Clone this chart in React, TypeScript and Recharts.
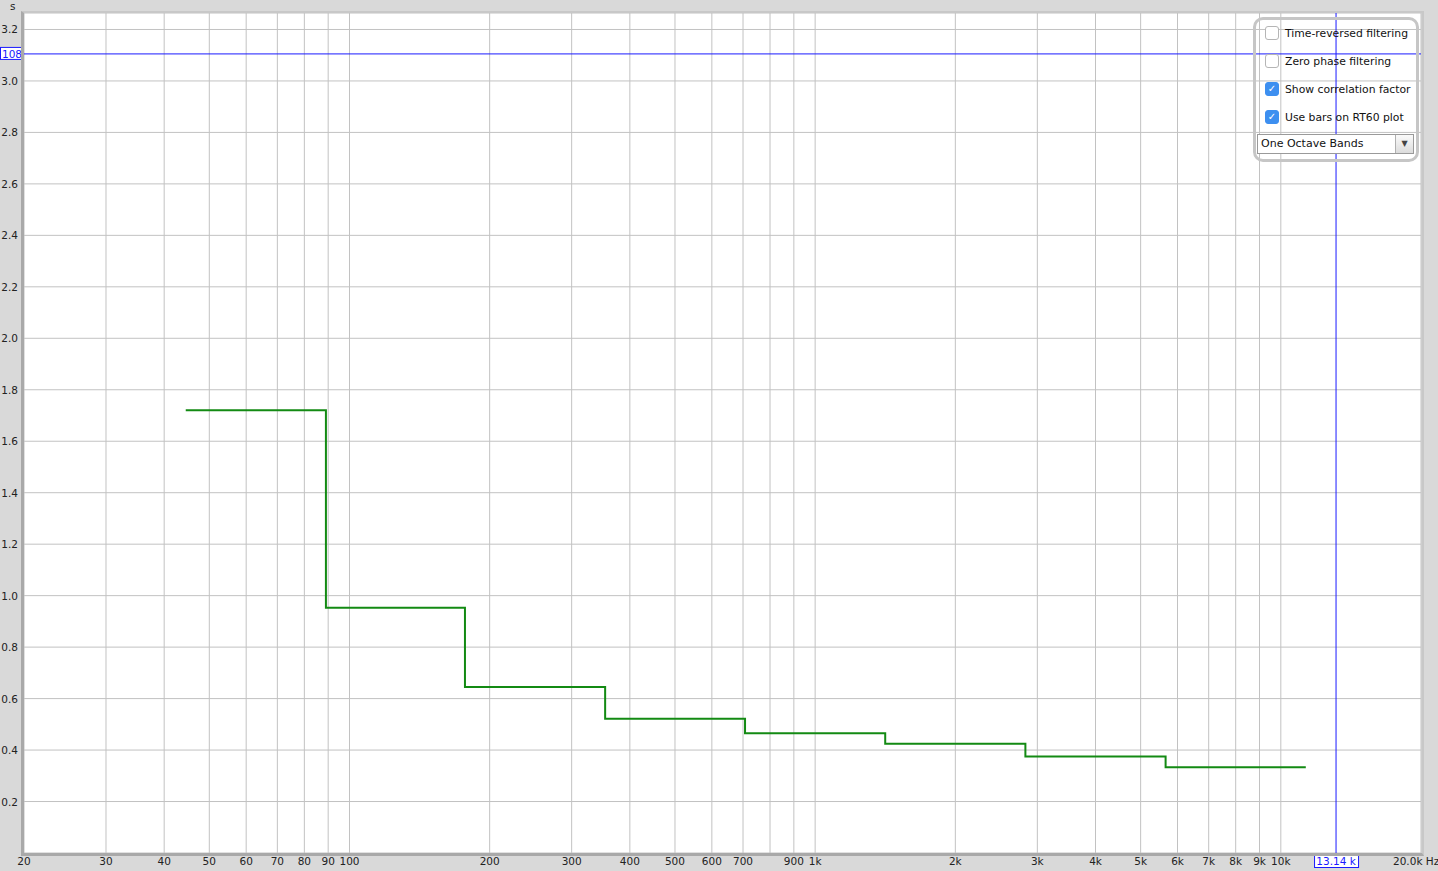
import { LineChart, Line, XAxis, YAxis, CartesianGrid, ReferenceLine } from 'recharts'

// octave band edges (Hz) and RT60 values (s) - last point closes the final step
const bandEdges = [44.5, 89, 177, 354, 707, 1414, 2828, 5657, 11314]
const rt60 = [1.72, 0.953, 0.645, 0.522, 0.465, 0.425, 0.375, 0.333, 0.333]

const freqGrid = [
  20, 30, 40, 50, 60, 70, 80, 90, 100, 200, 300, 400, 500, 600, 700, 800, 900, 1000,
  2000, 3000, 4000, 5000, 6000, 7000, 8000, 9000, 10000, 20000,
]
const freqLabels: Record<number, string> = {
  20: '20', 30: '30', 40: '40', 50: '50', 60: '60', 70: '70', 80: '80', 90: '90', 100: '100',
  200: '200', 300: '300', 400: '400', 500: '500', 600: '600', 700: '700', 900: '900', 1000: '1k',
  2000: '2k', 3000: '3k', 4000: '4k', 5000: '5k', 6000: '6k', 7000: '7k', 8000: '8k', 9000: '9k',
  10000: '10k',
}
const secTicks = [0.2, 0.4, 0.6, 0.8, 1.0, 1.2, 1.4, 1.6, 1.8, 2.0, 2.2, 2.4, 2.6, 2.8, 3.0, 3.2]

const cursorFreq = 13140
const cursorSec = 3.105

const options = [
  { label: 'Time-reversed filtering', checked: false },
  { label: 'Zero phase filtering', checked: false },
  { label: 'Show correlation factor', checked: true },
  { label: 'Use bars on RT60 plot', checked: true },
]

const data = bandEdges.map((f, i) => ({ f, rt: rt60[i] }))

const FONT = '"DejaVu Sans", sans-serif'

function XTick(props: any) {
  const { x, payload } = props
  const label = freqLabels[payload.value]
  if (!label) return null
  return (
    <text x={x} y={865} textAnchor="middle" fontSize={10.5} fill="#222" fontFamily={FONT}>
      {label}
    </text>
  )
}

function YTick(props: any) {
  const { x, y, payload } = props
  return (
    <text x={x + 2} y={y + 4} textAnchor="end" fontSize={10.5} fill="#222" fontFamily={FONT}>
      {payload.value.toFixed(1)}
    </text>
  )
}

function CursorYLabel(props: any) {
  const y = props.viewBox.y
  return (
    <g>
      <rect x={0.5} y={y - 6.5} width={22} height={12} fill="#fff" stroke="#1a1aff" />
      <text x={2} y={y + 4} fontSize={10.5} fill="#1a1aff" fontFamily={FONT}>108</text>
    </g>
  )
}

function CursorXLabel(props: any) {
  const x = props.viewBox.x
  return (
    <g>
      <rect x={x - 21.5} y={855.5} width={44} height={12} fill="#fff" stroke="#1a1aff" />
      <text x={x} y={865} textAnchor="middle" fontSize={10.5} fill="#1a1aff" fontFamily={FONT}>13.14 k</text>
    </g>
  )
}

export default function App() {
  return (
    <div style={{ position: 'absolute', left: 0, top: 0, width: 1438, height: 871, background: '#d9d9d9', fontFamily: FONT, overflow: 'hidden' }}>
      <LineChart width={1438} height={871} data={data} margin={{ top: 13, right: 17, left: 0, bottom: 0 }}>
        <CartesianGrid stroke="#c2c2c2" fill="#ffffff" strokeWidth={1} />
        <XAxis
          dataKey="f"
          type="number"
          scale="log"
          domain={[20, 20000]}
          ticks={freqGrid}
          interval={0}
          height={18}
          axisLine={false}
          tickLine={false}
          tick={<XTick />}
          allowDataOverflow
        />
        <YAxis
          type="number"
          domain={[0, 3.264]}
          ticks={secTicks}
          interval={0}
          width={24}
          axisLine={false}
          tickLine={false}
          tick={<YTick />}
          allowDataOverflow
        />
        <ReferenceLine y={cursorSec} stroke="#1a1aff" strokeWidth={1} label={<CursorYLabel />} />
        <ReferenceLine x={cursorFreq} stroke="#1a1aff" strokeWidth={1} label={<CursorXLabel />} />
        <Line
          type="stepAfter"
          dataKey="rt"
          stroke="#138a13"
          strokeWidth={2}
          dot={false}
          isAnimationActive={false}
        />
      </LineChart>

      {/* plot frame */}
      <div style={{ position: 'absolute', left: 21, top: 11, width: 1398, height: 840, borderLeft: '3px solid #a9a9a9', borderBottom: '3px solid #a9a9a9', borderTop: '2px solid #c8c8c8', borderRight: '2px solid #c8c8c8', pointerEvents: 'none' }} />

      <div style={{ position: 'absolute', left: 10, top: 0, fontSize: 10.5, color: '#222' }}>s</div>
      <div style={{ position: 'absolute', left: 1393, top: 855, fontSize: 10.5, color: '#222', whiteSpace: 'nowrap' }}>20.0k Hz</div>

      {/* options panel */}
      <div style={{ position: 'absolute', left: 1253, top: 17, width: 160, height: 139, border: '3px solid #c6c6c6', borderRadius: 10 }}>
        {options.map((o, i) => (
          <div key={o.label} style={{ position: 'absolute', left: 9, top: 6 + i * 28, display: 'flex', alignItems: 'center', fontSize: 10.8, color: '#111', whiteSpace: 'nowrap' }}>
            <div style={{ width: 12, height: 12, borderRadius: 3, border: o.checked ? '1px solid #3d8ff0' : '1px solid #b5b5b5', background: o.checked ? '#3d8ff0' : '#fff', color: '#fff', fontSize: 10, lineHeight: '12px', textAlign: 'center', marginRight: 6 }}>
              {o.checked ? '✓' : ''}
            </div>
            {o.label}
          </div>
        ))}
        <div style={{ position: 'absolute', left: 1, top: 114, width: 155, height: 18, border: '1px solid #9a9a9a', background: '#fff', fontSize: 11, lineHeight: '18px', color: '#111' }}>
          <span style={{ marginLeft: 3 }}>One Octave Bands</span>
          <div style={{ position: 'absolute', right: 0, top: 0, width: 17, height: 18, borderLeft: '1px solid #b0b0b0', background: 'linear-gradient(#fafafa, #dcdcdc)', fontSize: 8, lineHeight: '18px', textAlign: 'center', color: '#444' }}>▼</div>
        </div>
      </div>
    </div>
  )
}
